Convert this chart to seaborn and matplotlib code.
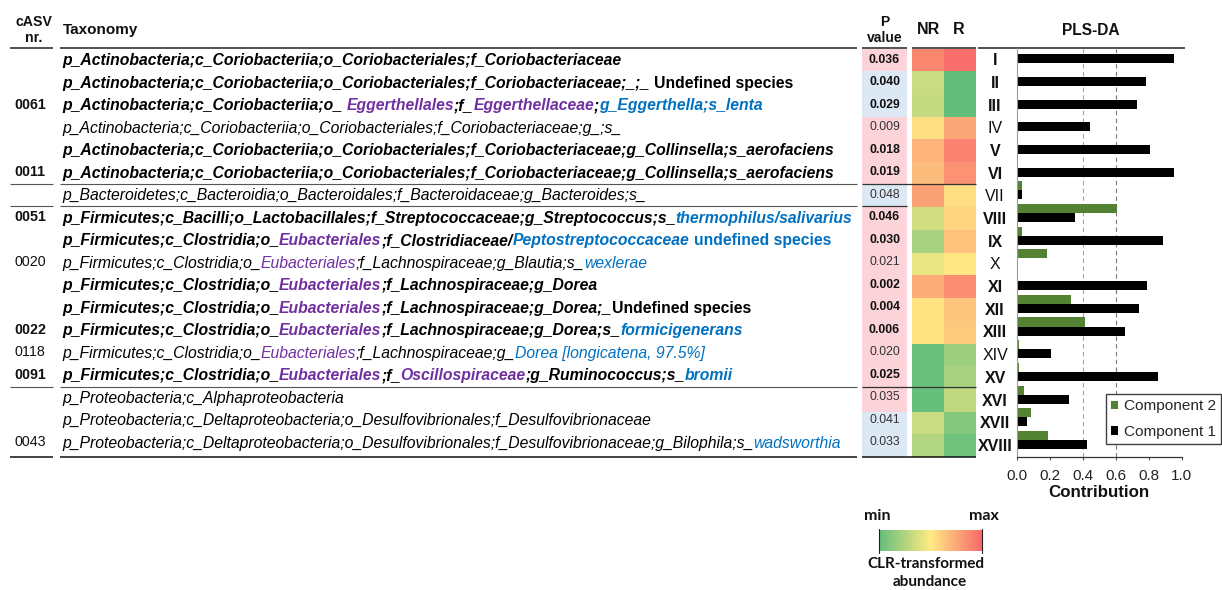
import numpy as np
import pandas as pd
import matplotlib
matplotlib.use("Agg")
import matplotlib.pyplot as plt
import seaborn as sns
from matplotlib.colors import LinearSegmentedColormap, ListedColormap
from matplotlib.font_manager import FontProperties, findfont, get_font
from matplotlib import ft2font

# ---------------- data ----------------
roman = ["I", "II", "III", "IV", "V", "VI", "VII", "VIII", "IX", "X",
         "XI", "XII", "XIII", "XIV", "XV", "XVI", "XVII", "XVIII"]
roman_bold = [True, True, True, False, True, True, False, True, True, False,
              True, True, True, False, True, True, True, True]
casv = ["", "", "0061", "", "", "0011", "", "0051", "", "0020",
        "", "", "0022", "0118", "0091", "", "", "0043"]
casv_bold = [False, False, True, False, False, True, False, True, False, False,
             False, False, True, False, True, False, False, False]
p_values = ["0.036", "0.040", "0.029", "0.009", "0.018", "0.019", "0.048", "0.046", "0.030",
            "0.021", "0.002", "0.004", "0.006", "0.020", "0.025", "0.035", "0.041", "0.033"]
p_group = [1, 0, 0, 1, 1, 1, 0, 1, 1, 1, 1, 1, 1, 1, 1, 1, 0, 0]   # 1 = pink, 0 = blue
row_bold = [True, True, True, False, True, True, False, True, True, False,
            True, True, True, False, True, False, False, False]
clr_nr = [0.88, 0.33, 0.32, 0.55, 0.71, 0.68, 0.785, 0.35, 0.22, 0.43,
          0.74, 0.53, 0.53, 0.02, 0.02, 0.01, 0.33, 0.25]
clr_r = [0.98, 0.00, 0.00, 0.76, 0.90, 0.84, 0.55, 0.58, 0.66, 0.51,
         0.86, 0.65, 0.63, 0.19, 0.22, 0.30, 0.11, 0.04]
comp1 = [0.951, 0.784, 0.729, 0.442, 0.810, 0.951, 0.030, 0.355, 0.887, 0.0,
         0.788, 0.741, 0.656, 0.210, 0.858, 0.317, 0.060, 0.426]
comp2 = [0.003, 0.0, 0.0, 0.0, 0.0, 0.0, 0.034, 0.608, 0.034, 0.184,
         0.008, 0.331, 0.414, 0.012, 0.016, 0.042, 0.089, 0.192]
components = ["Component 2", "Component 1"]

# taxonomy strings: (text, style, colour) ; style bi=bold italic, i=italic, b=bold
taxonomy = [
    [("p_Actinobacteria;c_Coriobacteriia;o_Coriobacteriales;f_Coriobacteriaceae", "bi", "k")],
    [("p_Actinobacteria;c_Coriobacteriia;o_Coriobacteriales;f_Coriobacteriaceae;_;_", "bi", "k"),
     (" Undefined species", "b", "k")],
    [("p_Actinobacteria;c_Coriobacteriia;o_", "bi", "k"), (" Eggerthellales", "bi", "p"),
     (";f_", "bi", "k"), ("Eggerthellaceae", "bi", "p"), (";", "bi", "k"),
     ("g_Eggerthella;s_lenta", "bi", "b")],
    [("p_Actinobacteria;c_Coriobacteriia;o_Coriobacteriales;f_Coriobacteriaceae;g_;s_", "i", "k")],
    [("p_Actinobacteria;c_Coriobacteriia;o_Coriobacteriales;f_Coriobacteriaceae;g_Collinsella;s_aerofaciens", "bi", "k")],
    [("p_Actinobacteria;c_Coriobacteriia;o_Coriobacteriales;f_Coriobacteriaceae;g_Collinsella;s_aerofaciens", "bi", "k")],
    [("p_Bacteroidetes;c_Bacteroidia;o_Bacteroidales;f_Bacteroidaceae;g_Bacteroides;s_", "i", "k")],
    [("p_Firmicutes;c_Bacilli;o_Lactobacillales;f_Streptococcaceae;g_Streptococcus;s_", "bi", "k"),
     ("thermophilus/salivarius", "bi", "b")],
    [("p_Firmicutes;c_Clostridia;o_", "bi", "k"), ("Eubacteriales", "bi", "p"),
     (";f_Clostridiaceae/", "bi", "k"), ("Peptostreptococcaceae", "bi", "b"),
     (" undefined species", "b", "b")],
    [("p_Firmicutes;c_Clostridia;o_", "i", "k"), ("Eubacteriales", "i", "p"),
     (";f_Lachnospiraceae;g_Blautia;s_", "i", "k"), ("wexlerae", "i", "b")],
    [("p_Firmicutes;c_Clostridia;o_", "bi", "k"), ("Eubacteriales", "bi", "p"),
     (";f_Lachnospiraceae;g_Dorea", "bi", "k")],
    [("p_Firmicutes;c_Clostridia;o_", "bi", "k"), ("Eubacteriales", "bi", "p"),
     (";f_Lachnospiraceae;g_Dorea;_", "bi", "k"), ("Undefined species", "b", "k")],
    [("p_Firmicutes;c_Clostridia;o_", "bi", "k"), ("Eubacteriales", "bi", "p"),
     (";f_Lachnospiraceae;g_Dorea;s_", "bi", "k"), ("formicigenerans", "bi", "b")],
    [("p_Firmicutes;c_Clostridia;o_", "i", "k"), ("Eubacteriales", "i", "p"),
     (";f_Lachnospiraceae;g_", "i", "k"), ("Dorea [longicatena, 97.5%]", "i", "b")],
    [("p_Firmicutes;c_Clostridia;o_", "bi", "k"), ("Eubacteriales", "bi", "p"),
     (";f_", "bi", "k"), ("Oscillospiraceae", "bi", "p"),
     (";g_Ruminococcus;s_", "bi", "k"), ("bromii", "bi", "b")],
    [("p_Proteobacteria;c_Alphaproteobacteria", "i", "k")],
    [("p_Proteobacteria;c_Deltaproteobacteria;o_Desulfovibrionales;f_Desulfovibrionaceae", "i", "k")],
    [("p_Proteobacteria;c_Deltaproteobacteria;o_Desulfovibrionales;f_Desulfovibrionaceae;g_Bilophila;s_", "i", "k"),
     ("wadsworthia", "i", "b")],
]

# ---------------- styling ----------------
sns.set_style("white")
plt.rcParams["font.family"] = ["Liberation Sans", "DejaVu Sans"]

W, H = 1222, 590
fig = plt.figure(figsize=(W / 100, H / 100), dpi=100)
ax0 = fig.add_axes([0, 0, 1, 1])
ax0.set_xlim(0, W)
ax0.set_ylim(H, 0)
ax0.set_axis_off()
ax0.patch.set_alpha(0)

TOP, BOT = 48.5, 457.0
PITCH = 22.5


def ty(i):
    return TOP + PITCH * (i + 0.5)


def fax(x0, y0, x1, y1):
    return fig.add_axes([x0 / W, 1 - y1 / H, (x1 - x0) / W, (y1 - y0) / H])


colours = {"k": "#000000", "p": "#7030A0", "b": "#0070C0"}
styles = {"bi": ("bold", "italic"), "i": ("normal", "italic"), "b": ("bold", "normal")}

# header
hk = dict(fontweight="bold", ha="center", va="center", color="#111111")
ax0.text(33.5, 21.7, "cASV", fontsize=10.2, **hk)
ax0.text(33.5, 38.3, "nr.", fontsize=10.2, **hk)
ax0.text(63, 30, "Taxonomy", fontsize=11, fontweight="bold", ha="left", va="center", color="#111111")
ax0.text(884.5, 21.7, "P", fontsize=10.1, **hk)
ax0.text(884.5, 38.3, "value", fontsize=10.1, **hk)
ax0.text(928.3, 30, "NR", fontsize=11.5, **hk)
ax0.text(959, 30, "R", fontsize=11.5, **hk)
ax0.text(1090.5, 30.7, "PLS-DA", fontsize=11.2, **hk)


# table lines
def seg(y, spans, color="#555555", lw=0.8):
    for x0, x1 in spans:
        ax0.plot([x0, x1], [y, y], color=color, lw=lw, solid_capstyle="butt")


seg(48, [(10, 53), (60, 857), (862, 907), (912, 976), (978, 1185)], "#222222", 1.1)
seg(183.5, [(10, 53), (60, 857)])
seg(183.5, [(862, 976)], "#333333", 0.9)
seg(206, [(10, 53), (60, 857)])
seg(206, [(862, 907)], "#333333", 0.9)
seg(386.7, [(10, 53), (60, 857)])
seg(386.7, [(862, 976)], "#333333", 0.9)
seg(457, [(10, 53), (60, 857), (862, 976)], "#111111", 1.1)

# cASV numbers
for i, (c, b) in enumerate(zip(casv, casv_bold)):
    if c:
        ax0.text(30, ty(i), c, fontsize=10.3, fontweight="bold" if b else "normal",
                 ha="center", va="center", color="#111111")

# taxonomy rich text
FS = 11.3
try:
    NOHINT = ft2font.LoadFlags.NO_HINTING
except AttributeError:
    NOHINT = ft2font.LOAD_NO_HINTING


def advance(text, weight, style):
    fp = FontProperties(family="Liberation Sans", weight=weight, style=style, size=FS)
    f = get_font(findfont(fp))
    f.set_size(FS, 100)
    total = 0.0
    for ch in text:
        g = f.load_char(ord(ch), flags=NOHINT)
        total += g.linearHoriAdvance / 65536.0
    return total


for i, segs in enumerate(taxonomy):
    x = 62.0
    yb = ty(i) + 5.6
    for text, st, col in segs:
        w, s = styles[st]
        if text.startswith(" "):
            x += advance(" ", w, s)
            text = text.lstrip()
        ax0.text(x, yb, text, color=colours[col], ha="left", va="baseline",
                 fontsize=FS, fontweight=w, fontstyle=s)
        x += advance(text, w, s)

# p-value cells
axp = fax(862, TOP, 907, BOT)
sns.heatmap(np.array(p_group)[:, None], ax=axp, cmap=ListedColormap(["#DCE9F5", "#FCD3D8"]),
            vmin=0, vmax=1, cbar=False, xticklabels=False, yticklabels=False)
axp.set_zorder(0)
for i, (p, b) in enumerate(zip(p_values, row_bold)):
    ax0.text(884.5, ty(i), p, fontsize=8.8, fontweight="bold" if b else "normal",
             ha="center", va="center", color="#111111" if b else "#333333", zorder=5)
ax0.set_zorder(3)

# heatmap
cmap = LinearSegmentedColormap.from_list("clr", ["#63BE7B", "#FFEB84", "#F8696B"])
axh = fax(912, TOP, 976, BOT)
df_clr = pd.DataFrame({"NR": clr_nr, "R": clr_r}, index=roman)
sns.heatmap(df_clr, ax=axh, cmap=cmap, vmin=0, vmax=1, cbar=False,
            xticklabels=False, yticklabels=False)
axh.set_zorder(0)

# colour scale
axc = fax(879, 530, 982, 551)
axc.imshow(np.linspace(0, 1, 256)[None, :], aspect="auto", cmap=cmap)
axc.set_axis_off()
ax0.plot([879, 879], [529, 553], color="#222222", lw=0.8)
ax0.plot([982, 982], [529, 553], color="#222222", lw=0.8)
ck = dict(family=["Lato", "DejaVu Sans"], fontweight="bold", ha="center", va="center", color="#111111")
ax0.text(877, 516, "min", fontsize=11.5, **ck)
ax0.text(984, 516, "max", fontsize=11.5, **ck)
ax0.text(926, 564, "CLR-transformed", fontsize=11, **ck)
ax0.text(930, 582, "abundance", fontsize=11, **ck)

# PLS-DA bars
axb = fax(1016.7, TOP, 1181.7, BOT)
df_bar = pd.DataFrame({
    "roman": roman * 2,
    "component": [components[0]] * len(roman) + [components[1]] * len(roman),
    "value": comp2 + comp1,
})
sns.barplot(data=df_bar, y="roman", x="value", hue="component", order=roman,
            hue_order=components, palette={components[0]: "#548235", components[1]: "#000000"},
            orient="h", width=0.8, saturation=1, linewidth=0, ax=axb)
shift = 0.25
axb.set_ylim(len(roman) - 0.5 + shift, -0.5 + shift)
axb.set_xlim(0, 1)
axb.set_yticks([i + 0.22 for i in range(len(roman))])
axb.set_yticklabels(roman, fontsize=11.5)
for lab, b in zip(axb.get_yticklabels(), roman_bold):
    lab.set_ha("center")
    lab.set_fontweight("bold" if b else "normal")
    lab.set_color("#111111")
axb.tick_params(axis="y", length=0, pad=15.6)
axb.set_xticks([0, 0.2, 0.4, 0.6, 0.8, 1.0])
axb.set_xticklabels(["0.0", "0.2", "0.4", "0.6", "0.8", "1.0"], fontsize=11, color="#222222")
axb.tick_params(axis="x", length=2.5, width=0.8, color="#555555", pad=6.3, bottom=True)
axb.set_xlabel("Contribution", fontsize=12.2, fontweight="bold", labelpad=1.5, color="#111111")
axb.set_ylabel("")
axb.axvline(0.4, color="#9aab9a", lw=0.8, ls=(0, (4, 3)), zorder=0)
axb.axvline(0.6, color="#777777", lw=0.8, ls=(0, (4, 3)), zorder=0)
for sp in ["top", "right"]:
    axb.spines[sp].set_visible(False)
axb.spines["left"].set_color("#999999")
axb.spines["left"].set_linewidth(0.8)
axb.spines["bottom"].set_color("#333333")
axb.spines["bottom"].set_linewidth(0.9)
axb.patch.set_alpha(0)
axb.set_zorder(4)
leg = axb.legend(loc="upper left", bbox_to_anchor=(1106 / W, 1 - 394 / H),
                 bbox_transform=fig.transFigure, frameon=True, fancybox=False,
                 edgecolor="#404040", framealpha=1, fontsize=11.1,
                 handlelength=0.45, handleheight=0.45, handletextpad=0.35,
                 borderpad=0.35, labelspacing=0.75, borderaxespad=0)
leg.get_frame().set_linewidth(1.0)

fig.savefig("out.png", dpi=100)
